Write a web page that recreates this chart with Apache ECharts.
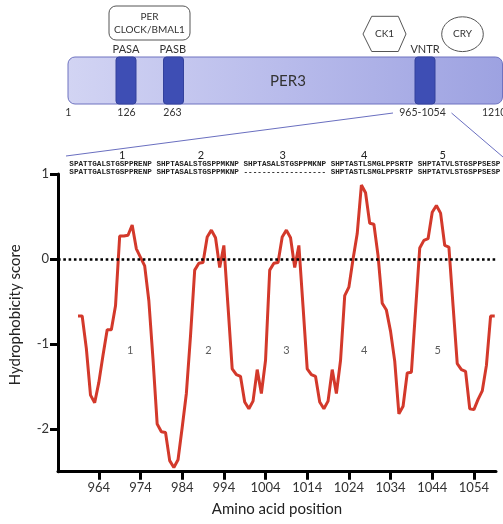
<!DOCTYPE html>
<html>
<head>
<meta charset="utf-8">
<script src="https://cdn.jsdelivr.net/npm/echarts@6/dist/echarts.min.js"></script>
<style>
html,body{margin:0;padding:0;background:#fff;}
#chart{width:503px;height:524px;}
</style>
</head>
<body>
<div id="chart"></div>
<script>
// Amino acid positions (x) and hydrophobicity scores (y)
const positions = [959,960,961,962,963,964,965,966,967,968,969,970,971,972,973,974,975,976,977,978,
  979,980,981,982,983,984,985,986,987,988,989,990,991,992,993,994,995,996,997,998,
  999,1000,1001,1002,1003,1004,1005,1006,1007,1008,1009,1010,1011,1012,1013,1014,1015,1016,1017,1018,
  1019,1020,1021,1022,1023,1024,1025,1026,1027,1028,1029,1030,1031,1032,1033,1034,1035,1036,1037,1038,
  1039,1040,1041,1042,1043,1044,1045,1046,1047,1048,1049,1050,1051,1052,1053,1054,1055,1056,1057,1058,1059];
const scores = [-0.67,-0.67,-1.05,-1.60,-1.69,-1.45,-1.13,-0.83,-0.83,-0.55,0.27,0.27,0.28,0.40,0.12,0.02,-0.08,-0.49,-1.18,-1.94,
  -2.03,-2.04,-2.37,-2.45,-2.36,-1.98,-1.58,-0.90,-0.13,-0.05,-0.04,0.26,0.34,0.25,-0.10,0.16,-0.56,-1.29,-1.36,-1.38,
  -1.68,-1.76,-1.67,-1.30,-1.58,-1.19,-0.13,-0.05,-0.04,0.26,0.34,0.25,-0.10,0.16,-0.56,-1.29,-1.36,-1.38,-1.68,-1.76,
  -1.67,-1.30,-1.58,-1.19,-0.43,-0.33,0.00,0.30,0.87,0.78,0.42,0.41,0.04,-0.52,-0.60,-0.85,-1.20,-1.82,-1.73,-1.34,
  -1.33,-0.60,0.13,0.22,0.24,0.55,0.63,0.54,0.16,0.14,-0.55,-1.23,-1.30,-1.32,-1.76,-1.77,-1.65,-1.55,-1.25,-0.67,-0.67];
const xTicks = [964,974,984,994,1004,1014,1024,1034,1044,1054];
const yTicks = [-2,-1,0,1];
const repeatLabels = ['1','2','3','4','5'];
const repeatLabelX = [971.5,990.3,1009,1027.7,1045.3];
const repeatLabelY = -1.07;
const seqRow1 = 'SPATTGALSTGSPPRENP SHPTASALSTGSPPMKNP SHPTASALSTGSPPMKNP SHPTASTLSMGLPPSRTP SHPTATVLSTGSPPSESP';
const seqRow2 = 'SPATTGALSTGSPPRENP SHPTASALSTGSPPMKNP ------------------ SHPTASTLSMGLPPSRTP SHPTATVLSTGSPPSESP';
const domainPosLabels = ['1','126','263','965-1054','1210'];

const FONT = 'Lato, "Open Sans", sans-serif';
const chart = echarts.init(document.getElementById('chart'), null, {renderer:'canvas'});

const seriesData = positions.map((p,i)=>[p,scores[i]]);
const labelData = repeatLabelX.map((x,i)=>({value:[x,repeatLabelY], name:repeatLabels[i]}));

const txt = (x,y,t,size,extra)=>Object.assign({type:'text',x:x,y:y,style:Object.assign({text:t,fill:'#333',font:size+'px '+FONT,align:'center',verticalAlign:'middle'},extra||{})});

const graphics = [
  // connector lines
  {type:'line',shape:{x1:393,y1:113,x2:66,y2:156},style:{stroke:'#6a6fc0',lineWidth:1}},
  {type:'line',shape:{x1:451.5,y1:113,x2:503,y2:157},style:{stroke:'#6a6fc0',lineWidth:1}},
  // main PER3 bar
  {type:'rect',shape:{x:68,y:57,width:434.5,height:47,r:7},
    style:{fill:new echarts.graphic.LinearGradient(0,0,1,0,[{offset:0,color:'#d2d4f3'},{offset:0.5,color:'#b8bbeb'},{offset:1,color:'#9da2e1'}]),stroke:'#6e73c0',lineWidth:1}},
  {type:'rect',shape:{x:116,y:57,width:20,height:47,r:3},style:{fill:'#3e4eb4',stroke:'#33419c',lineWidth:1}},
  {type:'rect',shape:{x:163.5,y:57,width:20,height:47,r:3},style:{fill:'#3e4eb4',stroke:'#33419c',lineWidth:1}},
  {type:'rect',shape:{x:415,y:57,width:20,height:47,r:3},style:{fill:'#3e4eb4',stroke:'#33419c',lineWidth:1}},
  txt(288,81,'PER3',15),
  // labels above domains
  txt(126,49,'PASA',11),
  txt(172.7,49,'PASB',11),
  txt(425,49,'VNTR',11),
  // position labels below
  txt(68.3,112.5,domainPosLabels[0],10.5),
  txt(126.5,112.5,domainPosLabels[1],10.5),
  txt(172.5,112.5,domainPosLabels[2],10.5),
  txt(422.5,112.5,domainPosLabels[3],10.5),
  txt(482,112.5,domainPosLabels[4],10.5,{align:'left'}),
  // PER CLOCK/BMAL1 box
  {type:'rect',shape:{x:109,y:6,width:81,height:34,r:7},style:{fill:'#fff',stroke:'#555',lineWidth:1}},
  txt(149.5,17,'PER',10),
  txt(149.5,30,'CLOCK/BMAL1',10),
  // CK1 hexagon
  {type:'polygon',shape:{points:[[363,34],[371.7,16.3],[398.3,16.3],[406,34],[398.3,51.5],[371.7,51.5]]},style:{fill:'#fff',stroke:'#555',lineWidth:1}},
  txt(384.5,34,'CK1',10),
  // CRY ellipse
  {type:'ellipse',shape:{cx:462.5,cy:34.2,rx:20.8,ry:17.4},style:{fill:'#fff',stroke:'#555',lineWidth:1}},
  txt(462.5,34.2,'CRY',10),
  // repeat numbers
  txt(122.3,155.5,'1',11,{fill:'#222'}),
  txt(201,155.5,'2',11,{fill:'#222'}),
  txt(282.7,155.5,'3',11,{fill:'#222'}),
  txt(364.3,155.5,'4',11,{fill:'#222'}),
  txt(442.7,155.5,'5',11,{fill:'#222'}),
  // sequences
  {type:'text',x:69.3,y:164.5,style:{text:seqRow1,fill:'#222',font:'bold 7.65px "Liberation Mono", "DejaVu Sans Mono", monospace',align:'left',verticalAlign:'middle'}},
  {type:'text',x:69.3,y:172,style:{text:seqRow2,fill:'#222',font:'bold 7.65px "Liberation Mono", "DejaVu Sans Mono", monospace',align:'left',verticalAlign:'middle'}}
];

chart.setOption({
  animation:false,
  backgroundColor:'#fff',
  grid:{left:50,right:7,top:174,bottom:52.3,containLabel:false},
  xAxis:{
    type:'value',min:954.2,max:1059.3,
    name:'Amino acid position',nameLocation:'middle',nameGap:30,
    nameTextStyle:{fontFamily:FONT,fontSize:15,color:'#222'},
    axisLine:{onZero:false,lineStyle:{color:'#000',width:3}},
    axisTick:{show:true,length:8,lineStyle:{color:'#000',width:3},customValues:xTicks},
    axisLabel:{fontFamily:FONT,fontSize:13,color:'#333',margin:10,customValues:xTicks,formatter:v=>String(v)},
    splitLine:{show:false}
  },
  yAxis:{
    type:'value',min:-2.5,max:1,
    name:'Hydrophobicity score',nameLocation:'middle',nameGap:35,
    nameTextStyle:{fontFamily:FONT,fontSize:15,color:'#222',padding:[0,0,0,16]},
    axisLine:{show:true,onZero:false,lineStyle:{color:'#000',width:3}},
    axisTick:{show:true,length:8,lineStyle:{color:'#000',width:3},customValues:yTicks},
    axisLabel:{fontFamily:FONT,fontSize:13,color:'#333',margin:9,customValues:yTicks,formatter:v=>String(v)},
    splitLine:{show:false}
  },
  series:[
    {type:'line',data:seriesData,symbol:'none',lineStyle:{color:'#d3392b',width:3},z:3,
      markLine:{silent:true,symbol:'none',label:{show:false},
        lineStyle:{color:'#000',width:2.6,type:[2.6,2.7]},
        data:[{yAxis:0}]}},
    {type:'scatter',data:labelData,symbolSize:0,silent:true,
      label:{show:true,formatter:p=>p.name,position:'inside',fontFamily:FONT,fontSize:11,color:'#333'}}
  ],
  graphic:{elements:graphics}
});
</script>
</body>
</html>
